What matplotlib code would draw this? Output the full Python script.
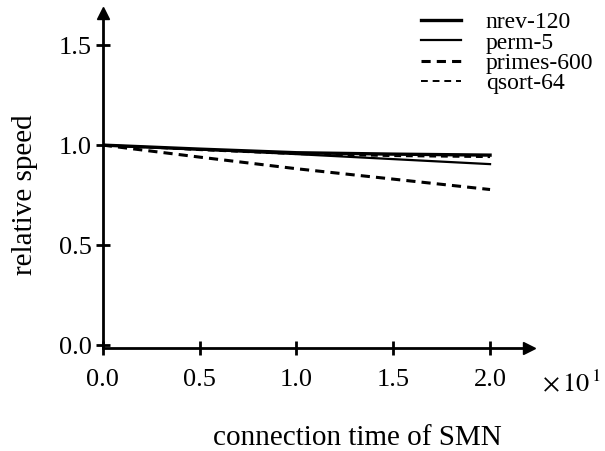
import matplotlib
matplotlib.use("Agg")
import matplotlib.pyplot as plt

plt.rcParams['font.family'] = ['Liberation Serif', 'DejaVu Serif']
plt.rcParams['mathtext.fontset'] = 'stix'

# connection time of SMN (x 10^1)
conn_time = [0, 5, 10, 15, 20]
nrev_120 = [1.0, 0.98, 0.962, 0.955, 0.95]
perm_5 = [1.0, 0.978, 0.955, 0.93, 0.905]
primes_600 = [1.0, 0.94, 0.882, 0.83, 0.778]
qsort_64 = [1.0, 0.975, 0.955, 0.945, 0.94]

xtick_pos = [0, 5, 10, 15, 20]
xtick_labels = ['0.0', '0.5', '1.0', '1.5', '2.0']
ytick_pos = [0.0, 0.5, 1.0, 1.5]
ytick_labels = ['0.0', '0.5', '1.0', '1.5']

fig = plt.figure(figsize=(6.05, 4.51), dpi=100)
ax = fig.add_axes([0.170, 0.228, 0.704, 0.743])

l1, = ax.plot(conn_time, nrev_120, color='black', lw=2.4, label='nrev-120')
l2, = ax.plot(conn_time, perm_5, color='black', lw=1.6, label='perm-5')
l3, = ax.plot(conn_time, primes_600, color='black', lw=2.2, ls=(0, (3, 2)), label='primes-600')
l4, = ax.plot(conn_time, qsort_64, color='black', lw=1.4, ls=(0, (3.5, 2.5)), label='qsort-64')

ax.set_xlim(0, 22)
ax.set_ylim(-0.015, 1.66)

for s in ['top', 'right']:
    ax.spines[s].set_visible(False)
for s in ['left', 'bottom']:
    ax.spines[s].set_linewidth(2.0)

# arrow heads on the axes
ax.plot(1, 0, '>k', ms=9, transform=ax.transAxes, clip_on=False)
ax.plot(0, 1, '^k', ms=9, transform=ax.transAxes, clip_on=False)

ax.set_xticks(xtick_pos)
ax.set_xticklabels(xtick_labels)
ax.set_yticks(ytick_pos)
ax.set_yticklabels(ytick_labels)
ax.tick_params(axis='x', direction='inout', length=10, width=2, labelsize=19, pad=10)
ax.tick_params(axis='y', direction='inout', length=10, width=2, labelsize=19, pad=3)

fig.text(542 / 605, 1 - 383 / 451, r'$\times\,10^{\,1}$', fontsize=19,
         va='center', ha='left')

# axis titles
fig.text(357 / 605, 6 / 451, 'connection time of SMN', fontsize=21,
         ha='center', va='baseline')
fig.text(25 / 605, 1 - 195 / 451, 'relative speed', fontsize=21,
         rotation=90, ha='center', va='center')

fig.legend(handles=[l1, l2, l3, l4], loc='upper left', bbox_to_anchor=(0.676, 1.0),
           frameon=False, fontsize=17, handlelength=1.7, handletextpad=1.05,
           labelspacing=-0.05, borderpad=0.0)

fig.savefig('out.png', dpi=100)
